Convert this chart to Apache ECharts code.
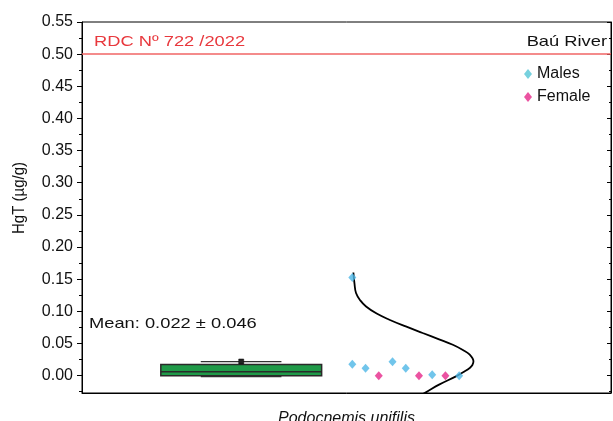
<!DOCTYPE html>
<html>
<head>
<meta charset="utf-8">
<script src="https://cdn.jsdelivr.net/npm/echarts@6/dist/echarts.min.js"></script>
<style>
  html, body { margin: 0; padding: 0; background: #fff; }
  #chart { width: 613px; height: 421px; }
</style>
</head>
<body>
<div id="chart"></div>
<script>
var FONT = '"Liberation Sans", Arial, sans-serif'

// category on the x axis
var categories = ['Podocnemis unifilis']

// y axis tick labels
var majorTicks = [0, 0.05, 0.1, 0.15, 0.2, 0.25, 0.3, 0.35, 0.4, 0.45, 0.5, 0.55]
var minorTicks = [-0.025, 0.025, 0.075, 0.125, 0.175, 0.225, 0.275, 0.325, 0.375, 0.425, 0.475, 0.525]

// box stats: [q1, median, q3, whisker low, whisker high, mean]
var boxStats = [0, 0.0062, 0.0175, 0, 0.0217, 0.022]

// individual points (x = jitter position inside the plot, 0..1)
var malesX = [0.511, 0.511, 0.536, 0.587, 0.612, 0.662, 0.713]
var malesY = [0.1527, 0.0176, 0.0114, 0.0217, 0.0114, 0.0015, 0]
var femaleX = [0.561, 0.637, 0.687]
var femaleY = [0, 0, 0]

// distribution curve
var curveX = [0.513, 0.515, 0.518, 0.526, 0.537, 0.557, 0.581, 0.612, 0.644, 0.675, 0.701, 0.72, 0.733, 0.740, 0.738, 0.733, 0.722, 0.707, 0.675, 0.650, 0.625]
var curveY = [0.1604, 0.144, 0.1284, 0.1170, 0.1076, 0.0965, 0.0870, 0.0765, 0.0663, 0.0565, 0.0481, 0.0400, 0.0326, 0.0222, 0.0165, 0.0120, 0.0060, -0.0011, -0.014, -0.026, -0.037]

// reference line
var limitValue = 0.5

function zip(xs, ys) {
  return xs.map((x, i) => [x, ys[i]])
}

var chart = echarts.init(document.getElementById('chart'), null, { renderer: 'canvas' })

var yBase = { type: 'value', min: -0.027, max: 0.55, splitLine: { show: false } }

var option = {
  animation: false,
  grid: { left: 82, right: 2, top: 22, bottom: 28, outerBoundsMode: 'none', containLabel: false,
    show: true, borderColor: '#000', borderWidth: 1 },
  legend: {
    orient: 'vertical',
    left: 519,
    top: 61,
    itemWidth: 8,
    itemHeight: 10,
    itemGap: 7,
    textStyle: { fontSize: 16, color: '#111', fontFamily: FONT },
    data: [
      { name: 'Males', icon: 'diamond', itemStyle: { color: '#55c5d6' } },
      { name: 'Female', icon: 'diamond' }
    ]
  },
  xAxis: [
    {
      type: 'category',
      data: categories,
      position: 'bottom',
      axisLine: { onZero: false, lineStyle: { color: '#000', width: 1 } },
      axisTick: { alignWithLabel: true, length: 4, lineStyle: { color: '#000' } },
      axisLabel: { fontSize: 16, fontStyle: 'italic', color: '#111', fontFamily: FONT, margin: 18 },
      splitLine: { show: false }
    },
    { type: 'value', min: 0, max: 1, show: false }
  ],
  yAxis: [
    Object.assign({}, yBase, {
      position: 'left',
      axisLine: { show: true, lineStyle: { color: '#000' } },
      axisTick: { show: true, length: 5, customValues: majorTicks, lineStyle: { color: '#000' } },
      axisLabel: { customValues: majorTicks, fontSize: 16, color: '#111', fontFamily: FONT, margin: 9,
        formatter: v => v.toFixed(2) }
    }),
    Object.assign({}, yBase, {
      position: 'left',
      axisLine: { show: false },
      axisTick: { show: true, length: 3, customValues: minorTicks, lineStyle: { color: '#000' } },
      axisLabel: { show: false }
    }),
    Object.assign({}, yBase, {
      position: 'right',
      axisLine: { show: true, lineStyle: { color: '#000' } },
      axisTick: { show: true, inside: true, length: 4, customValues: majorTicks, lineStyle: { color: '#000' } },
      axisLabel: { show: false }
    }),
    Object.assign({}, yBase, {
      position: 'right',
      axisLine: { show: false },
      axisTick: { show: true, inside: true, length: 2, customValues: minorTicks, lineStyle: { color: '#000' } },
      axisLabel: { show: false }
    })
  ],
  series: [
    {
      name: 'box',
      type: 'custom',
      xAxisIndex: 1,
      yAxisIndex: 0,
      data: [boxStats],
      renderItem: function (params, api) {
        var bx0 = api.coord([0.149, 0])[0], bx1 = api.coord([0.453, 0])[0]
        var wx0 = api.coord([0.2245, 0])[0], wx1 = api.coord([0.377, 0])[0]
        var cx = api.coord([0.301, 0])[0]
        var yq1 = api.coord([0, api.value(0)])[1]
        var ymed = api.coord([0, api.value(1)])[1]
        var yq3 = api.coord([0, api.value(2)])[1]
        var ylo = api.coord([0, api.value(3)])[1]
        var yhi = api.coord([0, api.value(4)])[1]
        var ymean = api.coord([0, api.value(5)])[1]
        var wStyle = { stroke: '#333', lineWidth: 1.2 }
        return {
          type: 'group',
          children: [
            { type: 'line', shape: { x1: wx0, y1: ylo + 1, x2: wx1, y2: ylo + 1 }, style: wStyle },
            { type: 'line', shape: { x1: wx0, y1: yhi, x2: wx1, y2: yhi }, style: wStyle },
            { type: 'line', shape: { x1: cx, y1: yq3, x2: cx, y2: yhi }, style: wStyle },
            { type: 'rect', shape: { x: bx0, y: yq3, width: bx1 - bx0, height: yq1 - yq3 },
              style: { fill: '#1f9a48', stroke: '#2a2a2a', lineWidth: 1.5 } },
            { type: 'line', shape: { x1: bx0, y1: ymed, x2: bx1, y2: ymed }, style: { stroke: '#2a2a2a', lineWidth: 1.5 } },
            { type: 'rect', shape: { x: cx - 2.5, y: ymean - 2.5, width: 5, height: 5 },
              style: { fill: '#222', stroke: '#000', lineWidth: 0.5 } }
          ]
        }
      },
      z: 3
    },
    {
      name: 'curve',
      type: 'line',
      xAxisIndex: 1,
      yAxisIndex: 0,
      data: zip(curveX, curveY),
      smooth: 0.4,
      showSymbol: false,
      symbol: 'none',
      lineStyle: { color: '#000', width: 1.8 },
      clip: true,
      markLine: {
        silent: true,
        symbol: 'none',
        label: { show: false },
        lineStyle: { color: '#f06464', width: 1.6, type: 'solid' },
        data: [{ yAxis: limitValue }]
      },
      z: 2
    },
    {
      name: 'Males',
      type: 'scatter',
      xAxisIndex: 1,
      yAxisIndex: 0,
      symbol: 'diamond',
      symbolSize: [8, 9],
      itemStyle: { color: '#4db6e6' },
      data: zip(malesX, malesY),
      z: 4
    },
    {
      name: 'Female',
      type: 'scatter',
      xAxisIndex: 1,
      yAxisIndex: 0,
      symbol: 'diamond',
      symbolSize: [8, 9],
      itemStyle: { color: '#e6288a' },
      data: zip(femaleX, femaleY),
      z: 4
    }
  ],
  graphic: [
    { type: 'text', x: 94, y: 42, scaleX: 1.22,
      style: { text: 'RDC Nº 722 /2022', fontSize: 15, fill: '#e8383d', fontFamily: FONT, align: 'left', verticalAlign: 'middle' } },
    { type: 'text', x: 607, y: 42, scaleX: 1.22,
      style: { text: 'Baú River', fontSize: 15, fill: '#111', fontFamily: FONT, align: 'right', verticalAlign: 'middle' } },
    { type: 'text', x: 89, y: 324, scaleX: 1.22,
      style: { text: 'Mean: 0.022 ± 0.046', fontSize: 15, fill: '#111', fontFamily: FONT, align: 'left', verticalAlign: 'middle' } },
    { type: 'text', x: 19, y: 198, rotation: Math.PI / 2, scaleY: 1.15,
      style: { text: 'HgT (µg/g)', fontSize: 15, fill: '#111', fontFamily: FONT, align: 'center', verticalAlign: 'middle' } }
  ]
}

chart.setOption(option)
</script>
</body>
</html>
